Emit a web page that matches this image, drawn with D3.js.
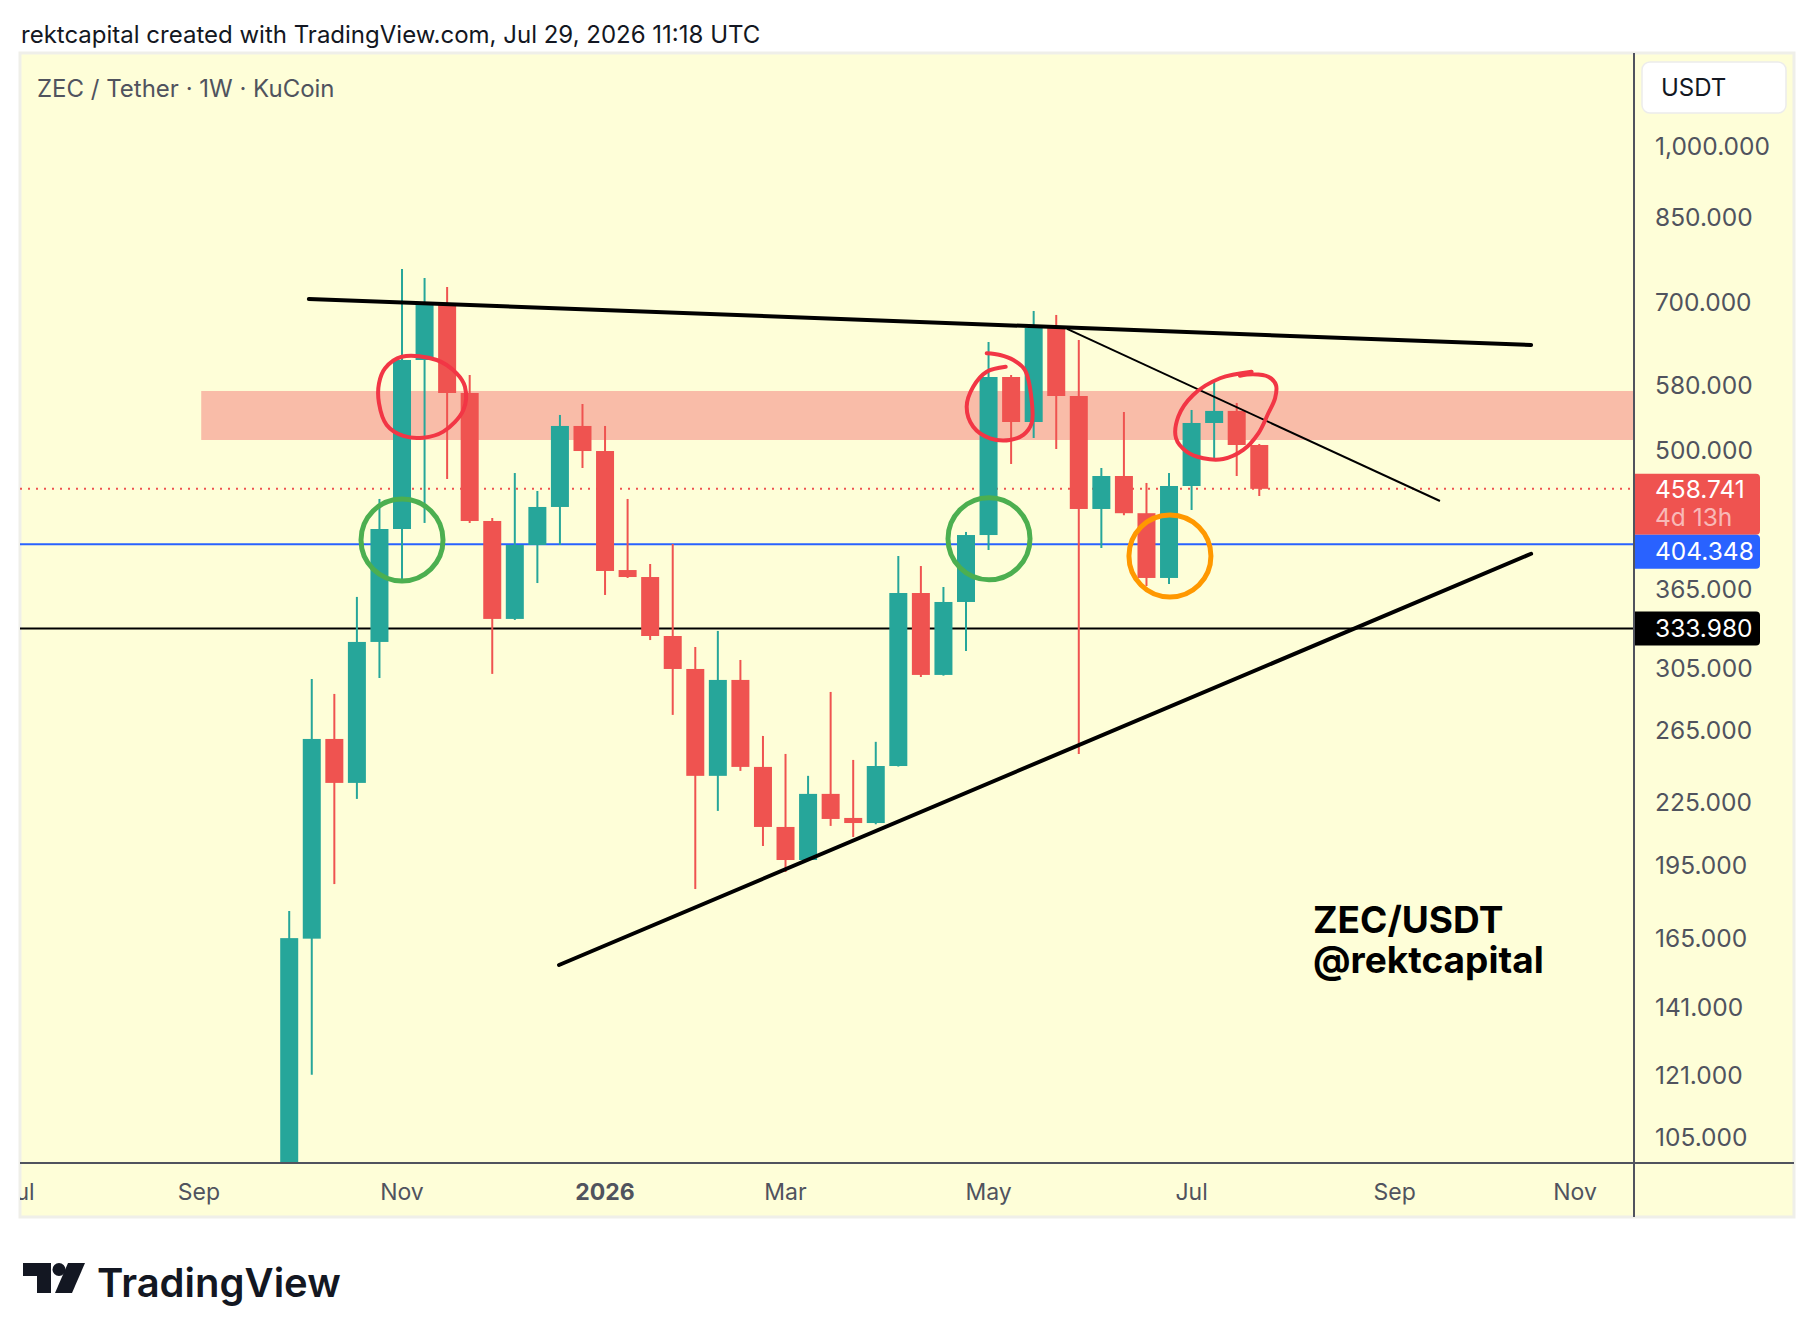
<!DOCTYPE html>
<html>
<head>
<meta charset="utf-8">
<script src="https://cdn.jsdelivr.net/npm/d3@7"></script>
<style>
  html, body { margin: 0; padding: 0; background: #fff; }
  svg { display: block; }
</style>
</head>
<body>
<svg id="chart" width="1814" height="1338"></svg>
<script>
// weekly candles, ZEC/USDT on KuCoin
const weekDates = [
  "2025-09-29", "2025-10-06", "2025-10-13", "2025-10-20", "2025-10-27", "2025-11-03",
  "2025-11-10", "2025-11-17", "2025-11-24", "2025-12-01", "2025-12-08", "2025-12-15",
  "2025-12-22", "2025-12-29", "2026-01-05", "2026-01-12", "2026-01-19", "2026-01-26",
  "2026-02-02", "2026-02-09", "2026-02-16", "2026-02-23", "2026-03-02", "2026-03-09",
  "2026-03-16", "2026-03-23", "2026-03-30", "2026-04-06", "2026-04-13", "2026-04-20",
  "2026-04-27", "2026-05-04", "2026-05-11", "2026-05-18", "2026-05-25", "2026-06-01",
  "2026-06-08", "2026-06-15", "2026-06-22", "2026-06-29", "2026-07-06", "2026-07-13",
  "2026-07-20", "2026-07-27"
];
const opens = [
  72, 165, 259.8, 235.1, 323.9, 418.7, 614.8, 696.7, 570.4, 426.4, 341.3, 403.8,
  440.2, 529.2, 499.9, 381.4, 375.4, 328.3, 304.6, 238.9, 297.1, 243.8, 212.7, 197.3,
  229.3, 217.1, 214.6, 244.3, 362.0, 300.5, 354.7, 413.0, 591.5, 534.0, 661.2, 566.5,
  438.2, 472.3, 434.0, 374.6, 461.7, 532.8, 547.6, 506.8
];
const highs = [
  175.7, 297.8, 287.8, 358.8, 448.3, 756.1, 740.8, 725.8, 594.2, 429.3, 475.5, 456.5,
  542.6, 556.3, 529.2, 448.3, 386.7, 404.7, 320.2, 332.1, 310.9, 261.6, 251.1, 238.9,
  289.1, 247.7, 258.1, 393.8, 384.9, 367.0, 415.9, 640.5, 594.2, 687.3, 681.1, 643.4,
  481.0, 546.3, 464.9, 475.5, 548.8, 587.5, 557.6, 508.0
];
const lows = [
  68, 121.1, 186.8, 226.7, 298.4, 372.9, 424.5, 469.1, 424.5, 301.2, 340.5, 370.3,
  403.8, 481.0, 360.4, 374.6, 325.3, 274.4, 184.7, 220.6, 241.6, 203.7, 192.0, 197.0,
  213.2, 207.9, 214.0, 244.0, 299.1, 300.0, 317.3, 399.2, 485.4, 514.9, 502.2, 251.1,
  401.0, 432.0, 367.8, 369.5, 437.2, 489.8, 472.3, 451.3
];
const closes = [
  165.2, 259.8, 235.1, 323.9, 418.7, 614.8, 696.7, 570.4, 426.4, 341.3, 403.8, 440.2,
  529.2, 499.9, 380.6, 375.4, 328.3, 304.6, 238.9, 297.1, 243.8, 212.7, 197.3, 229.3,
  216.6, 214.6, 244.3, 362.0, 300.5, 354.7, 413.0, 591.5, 534.0, 661.2, 566.5, 438.2,
  472.3, 434.0, 374.6, 461.7, 532.8, 547.6, 506.8, 458.741
];

const priceTicks = [1000, 850, 700, 580, 500, 365, 305, 265, 225, 195, 165, 141, 121, 105];
const monthTickDates = ["2025-07-07", "2025-09-01", "2025-11-03", "2026-01-05", "2026-03-02",
  "2026-05-04", "2026-07-06", "2026-09-07", "2026-11-02"];
const monthTickLabels = ["Jul", "Sep", "Nov", "2026", "Mar", "May", "Jul", "Sep", "Nov"];

const lastPrice = 458.741;
const blueLevel = 404.348;
const blackLevel = 333.98;
const countdown = "4d 13h";

// drawings: x in weeks counted from 2025-07-07, y in price
const zone = { fromWeek: 8.1, low: 512.6, high: 573.0 };
const resistanceLine = [[12.87, 706.3], [67.05, 636.1]];
const supportLine = [[23.96, 155.4], [67.05, 395.8]];
const thinLine = [[46.48, 659.8], [63.01, 446.2]];
const greenRings = [[17.0, 408.4], [43.02, 409.5]];
const orangeRing = [51.04, 393.7];
const redLoop1 = [[16.99, 619.4], [18.54, 614.8], [19.42, 596.5], [19.79, 578.6], [19.72, 548.8],
  [18.83, 522.4], [17.94, 515.3], [17.06, 517.3], [16.32, 530.4], [15.98, 557.2], [15.98, 583.1], [16.25, 603.4]];
const redLoop2 = [[43.76, 605.5], [42.92, 598.7], [42.32, 578.6], [42.03, 552.9], [42.32, 528.3],
  [43.06, 514.6], [43.95, 512.6], [44.54, 518.5], [44.91, 532.5], [44.91, 561.4], [44.61, 601.0],
  [44.10, 614.8], [43.51, 621.8], [42.92, 624.3]];
const redLoop3 = [[54.66, 598.7], [53.26, 589.8], [52.07, 567.8], [51.41, 540.5], [51.31, 514.6],
  [51.78, 499.2], [52.52, 491.7], [53.40, 490.9], [54.29, 501.1], [54.96, 520.4], [55.40, 544.7],
  [55.70, 563.6], [55.74, 580.9], [55.40, 591.9], [54.73, 595.2], [54.14, 593.3]];

const UP = "#26a69a", DOWN = "#ef5350";
const BG = "#fefed8";
const FONT = "Inter, 'Noto Sans', sans-serif";

const panel = { left: 20, top: 53, right: 1794, bottom: 1217 };
const plot = { left: 20, top: 53, right: 1634, bottom: 1163 };

const svg = d3.select("#chart");
const parse = d3.utcParse("%Y-%m-%d");
const t0 = parse("2025-07-07");
const WEEK = 7 * 864e5;

const x = d3.scaleUtc().domain([t0, parse("2026-11-02")]).range([18.5, 1575.1]);
const y = d3.scaleLog().domain([105, 1000]).range([1137.5, 146]);
const wx = (w) => x(new Date(t0.getTime() + w * WEEK));

const candles = weekDates.map((d, i) => ({
  date: parse(d), o: opens[i], h: highs[i], l: lows[i], c: closes[i]
}));

// header
svg.append("text").attr("x", 21).attr("y", 43)
  .attr("font-family", FONT).attr("font-size", 24).attr("fill", "#131722")
  .text("rektcapital created with TradingView.com, Jul 29, 2026 11:18 UTC");

// panel
svg.append("rect")
  .attr("x", panel.left).attr("y", panel.top)
  .attr("width", panel.right - panel.left).attr("height", panel.bottom - panel.top)
  .attr("fill", BG).attr("stroke", "#efefe9").attr("stroke-width", 3);

const defs = svg.append("defs");
defs.append("clipPath").attr("id", "plotClip").append("rect")
  .attr("x", plot.left).attr("y", plot.top)
  .attr("width", plot.right - plot.left).attr("height", plot.bottom - plot.top);
defs.append("clipPath").attr("id", "timeClip").append("rect")
  .attr("x", plot.left).attr("y", plot.bottom)
  .attr("width", plot.right - plot.left).attr("height", panel.bottom - plot.bottom);

const g = svg.append("g").attr("clip-path", "url(#plotClip)");

// resistance zone
g.append("rect")
  .attr("x", wx(zone.fromWeek)).attr("y", y(zone.high))
  .attr("width", plot.right - wx(zone.fromWeek))
  .attr("height", y(zone.low) - y(zone.high))
  .attr("fill", "#f9bca8");

// horizontal levels
g.append("line")
  .attr("x1", plot.left).attr("x2", plot.right)
  .attr("y1", y(blueLevel)).attr("y2", y(blueLevel))
  .attr("stroke", "#2962ff").attr("stroke-width", 2);
g.append("line")
  .attr("x1", plot.left).attr("x2", plot.right)
  .attr("y1", y(blackLevel)).attr("y2", y(blackLevel))
  .attr("stroke", "#000").attr("stroke-width", 2);
g.append("line")
  .attr("x1", plot.left).attr("x2", plot.right)
  .attr("y1", y(lastPrice)).attr("y2", y(lastPrice))
  .attr("stroke", DOWN).attr("stroke-width", 2).attr("stroke-dasharray", "2 6");

// candles
const bodyW = 18;
const cg = g.append("g");
cg.selectAll("line.wick")
  .data(candles)
  .join("line")
  .attr("class", "wick")
  .attr("x1", (d) => x(d.date)).attr("x2", (d) => x(d.date))
  .attr("y1", (d) => y(d.h)).attr("y2", (d) => y(d.l))
  .attr("stroke", (d) => (d.c >= d.o ? UP : DOWN))
  .attr("stroke-width", 2);
cg.selectAll("rect.body")
  .data(candles)
  .join("rect")
  .attr("class", "body")
  .attr("x", (d) => x(d.date) - bodyW / 2)
  .attr("width", bodyW)
  .attr("y", (d) => y(Math.max(d.o, d.c)))
  .attr("height", (d) => Math.max(2, Math.abs(y(d.o) - y(d.c))))
  .attr("fill", (d) => (d.c >= d.o ? UP : DOWN));

// trend lines
const lineGen = d3.line().x((d) => wx(d[0])).y((d) => y(d[1]));
g.append("path").attr("d", lineGen(resistanceLine))
  .attr("fill", "none").attr("stroke", "#000").attr("stroke-width", 4).attr("stroke-linecap", "round");
g.append("path").attr("d", lineGen(supportLine))
  .attr("fill", "none").attr("stroke", "#000").attr("stroke-width", 4).attr("stroke-linecap", "round");
g.append("path").attr("d", lineGen(thinLine))
  .attr("fill", "none").attr("stroke", "#000").attr("stroke-width", 2);

// rings
g.selectAll("circle.green")
  .data(greenRings)
  .join("circle")
  .attr("cx", (d) => wx(d[0])).attr("cy", (d) => y(d[1])).attr("r", 41)
  .attr("fill", "none").attr("stroke", "#4caf50").attr("stroke-width", 5);
g.append("circle")
  .attr("cx", wx(orangeRing[0])).attr("cy", y(orangeRing[1])).attr("r", 41)
  .attr("fill", "none").attr("stroke", "#ff9800").attr("stroke-width", 5);

// hand drawn loops
const loopClosed = d3.line().x((d) => wx(d[0])).y((d) => y(d[1])).curve(d3.curveCatmullRomClosed);
const loopOpen = d3.line().x((d) => wx(d[0])).y((d) => y(d[1])).curve(d3.curveCatmullRom);
g.append("path").attr("d", loopClosed(redLoop1))
  .attr("fill", "none").attr("stroke", "#f23645").attr("stroke-width", 4);
[redLoop2, redLoop3].forEach((pts) => {
  g.append("path").attr("d", loopOpen(pts))
    .attr("fill", "none").attr("stroke", "#f23645").attr("stroke-width", 4)
    .attr("stroke-linecap", "round").attr("stroke-linejoin", "round");
});

// watermark text
svg.append("text").attr("x", 1313).attr("y", 933)
  .attr("font-family", FONT).attr("font-weight", 700).attr("font-size", 37).attr("fill", "#000")
  .text("ZEC/USDT");
svg.append("text").attr("x", 1313).attr("y", 973)
  .attr("font-family", FONT).attr("font-weight", 700).attr("font-size", 37).attr("fill", "#000")
  .text("@rektcapital");

// symbol legend
svg.append("text").attr("x", 37).attr("y", 97)
  .attr("font-family", FONT).attr("font-size", 24).attr("fill", "#50535e")
  .text("ZEC / Tether · 1W · KuCoin");

// axis frame lines
svg.append("line").attr("x1", plot.right).attr("x2", plot.right)
  .attr("y1", panel.top).attr("y2", panel.bottom)
  .attr("stroke", "#50535e").attr("stroke-width", 2);
svg.append("line").attr("x1", panel.left).attr("x2", panel.right)
  .attr("y1", plot.bottom).attr("y2", plot.bottom)
  .attr("stroke", "#50535e").attr("stroke-width", 2);

// price axis labels
const fmt = d3.format(",.3f");
const LABEL_X = 1655;
svg.append("g").selectAll("text")
  .data(priceTicks)
  .join("text")
  .attr("x", LABEL_X).attr("y", (d) => y(d) + 8.5)
  .attr("font-family", FONT).attr("font-size", 24.5).attr("fill", "#50535e")
  .text((d) => fmt(d));

// currency box
svg.append("rect").attr("x", 1642).attr("y", 62).attr("width", 144).attr("height", 51)
  .attr("rx", 8).attr("fill", "#fff").attr("stroke", "#ececec").attr("stroke-width", 1.5);
svg.append("text").attr("x", 1661).attr("y", 96)
  .attr("font-family", FONT).attr("font-size", 24).attr("fill", "#131722").text("USDT");

// price tags
function tag(top, h, fill) {
  const w = 125, r = 4, l = plot.right + 1;
  svg.append("path")
    .attr("d", `M${l},${top}H${l + w - r}Q${l + w},${top} ${l + w},${top + r}V${top + h - r}Q${l + w},${top + h} ${l + w - r},${top + h}H${l}Z`)
    .attr("fill", fill);
}
const redTop = y(lastPrice) - 15;
tag(redTop, 61, DOWN);
svg.append("text").attr("x", LABEL_X).attr("y", redTop + 24)
  .attr("font-family", FONT).attr("font-size", 24.5).attr("fill", "#fff").text(fmt(lastPrice));
svg.append("text").attr("x", LABEL_X).attr("y", redTop + 52)
  .attr("font-family", FONT).attr("font-size", 24.5).attr("fill", "rgba(255,255,255,0.6)").text(countdown);

const blueTop = Math.max(redTop + 61, y(blueLevel) - 17);
tag(blueTop, 34, "#2962ff");
svg.append("text").attr("x", LABEL_X).attr("y", blueTop + 25.5)
  .attr("font-family", FONT).attr("font-size", 24.5).attr("fill", "#fff").text(fmt(blueLevel));

const blackTop = y(blackLevel) - 17;
tag(blackTop, 34, "#000");
svg.append("text").attr("x", LABEL_X).attr("y", blackTop + 25.5)
  .attr("font-family", FONT).attr("font-size", 24.5).attr("fill", "#fff").text(fmt(blackLevel));

// time axis labels
svg.append("g").attr("clip-path", "url(#timeClip)")
  .selectAll("text")
  .data(monthTickDates)
  .join("text")
  .attr("x", (d) => x(parse(d))).attr("y", 1200)
  .attr("text-anchor", "middle")
  .attr("font-family", FONT).attr("font-size", 23)
  .attr("font-weight", (d, i) => (monthTickLabels[i] === "2026" ? 700 : 400))
  .attr("fill", "#50535e")
  .text((d, i) => monthTickLabels[i]);

// TradingView logo
const logo = svg.append("g").attr("fill", "#131722");
logo.append("path").attr("d", "M23,1263H51V1293H37V1276H23Z");
logo.append("circle").attr("cx", 59).attr("cy", 1269.5).attr("r", 6.5);
logo.append("path").attr("d", "M68,1263H85L72,1293H55Z");
svg.append("text").attr("x", 97).attr("y", 1297)
  .attr("font-family", FONT).attr("font-weight", 600).attr("font-size", 40)
  .attr("fill", "#131722").text("TradingView");
</script>
</body>
</html>
